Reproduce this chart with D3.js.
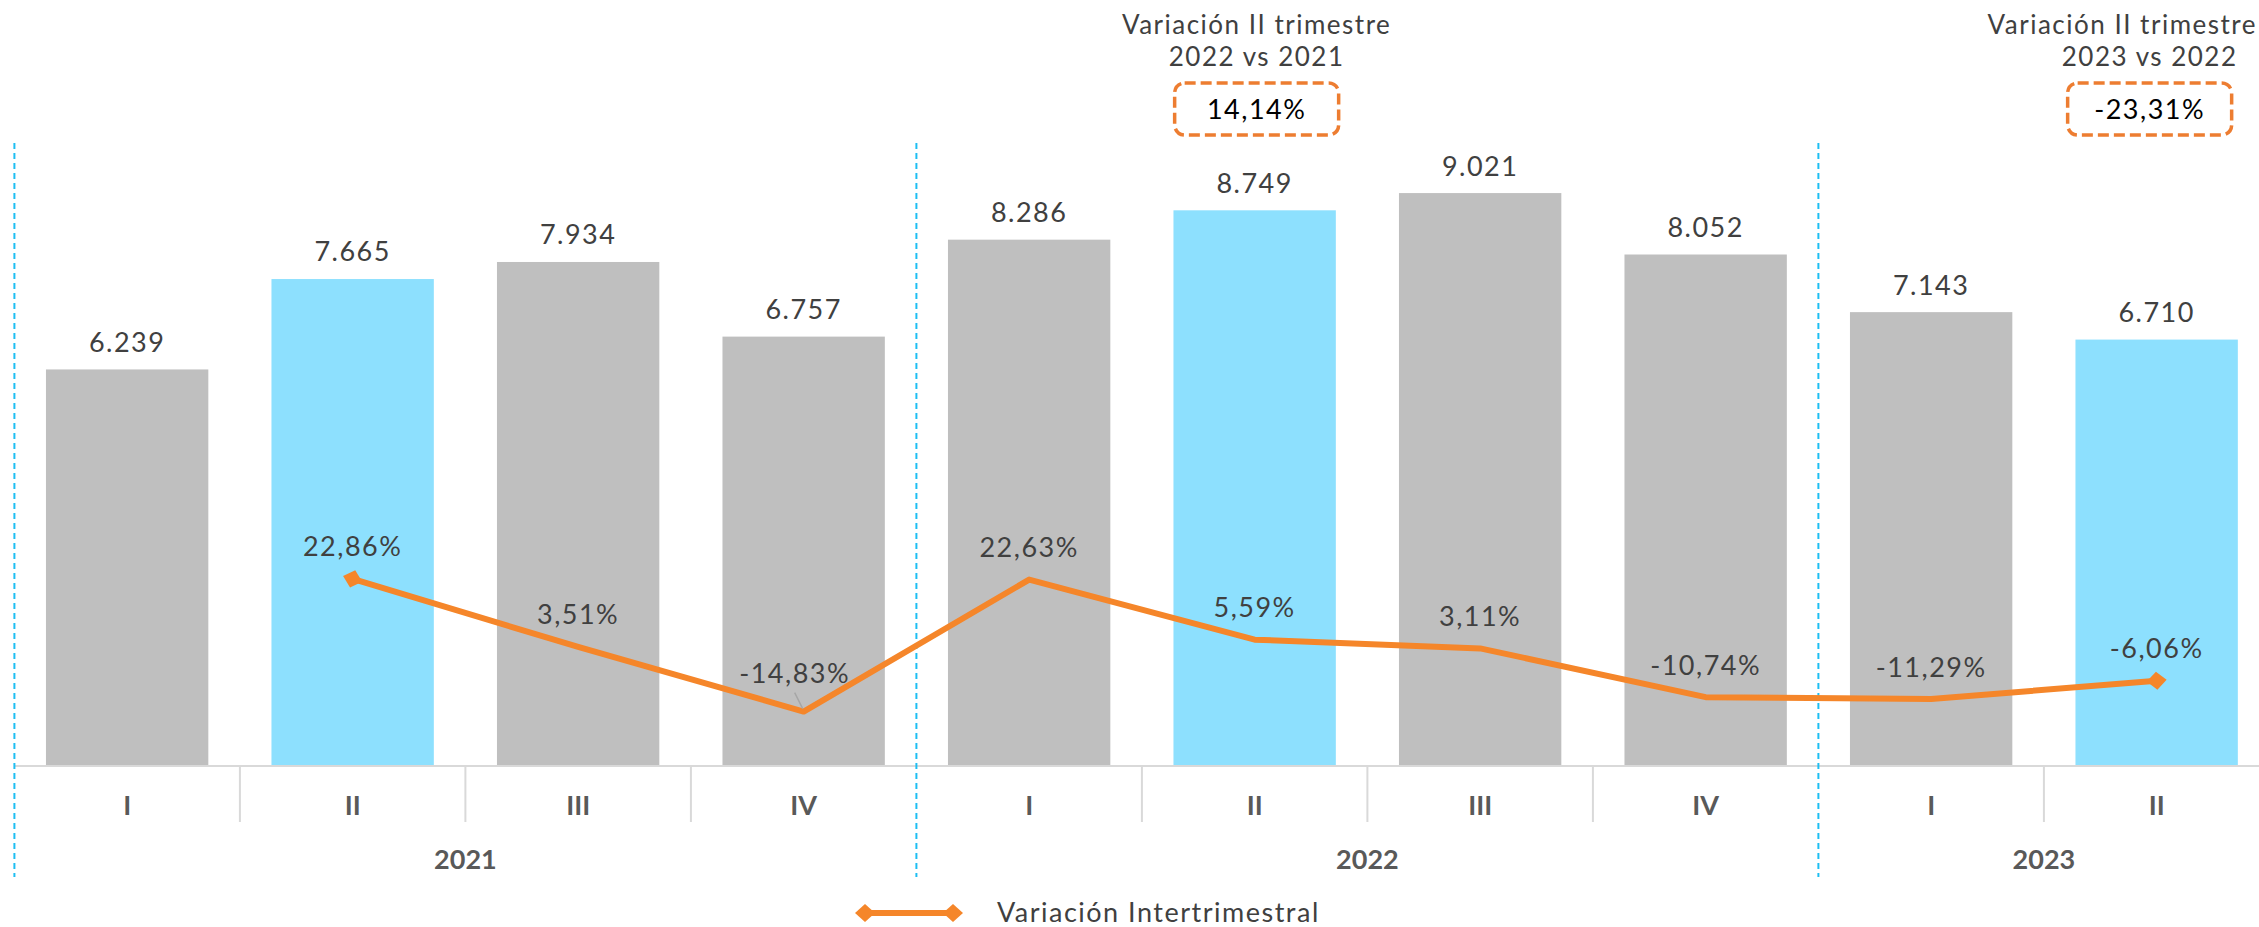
<!DOCTYPE html>
<html>
<head>
<meta charset="utf-8">
<script src="https://cdn.jsdelivr.net/npm/d3@7"></script>
<style>
  body { margin: 0; background: #fff; }
  svg { display: block; font-family: "Century Gothic", Lato, "Open Sans", sans-serif; }
  .thin { letter-spacing: 1.5px; }
</style>
</head>
<body>
<div id="chart"></div>
<script>
// data
var years = ["2021", "2022", "2023"];
var quarters = ["I", "II", "III", "IV", "I", "II", "III", "IV", "I", "II"];
var quarterYear = ["2021", "2021", "2021", "2021", "2022", "2022", "2022", "2022", "2023", "2023"];
var totals = [6239, 7665, 7934, 6757, 8286, 8749, 9021, 8052, 7143, 6710];
var totalLabels = ["6.239", "7.665", "7.934", "6.757", "8.286", "8.749", "9.021", "8.052", "7.143", "6.710"];
var highlight = [false, true, false, false, false, true, false, false, false, true];
var variation = [null, 22.86, 3.51, -14.83, 22.63, 5.59, 3.11, -10.74, -11.29, -6.06];
var variationLabels = ["", "22,86%", "3,51%", "-14,83%", "22,63%", "5,59%", "3,11%", "-10,74%", "-11,29%", "-6,06%"];
var annoIndex = [5, 9];
var annoTitle = ["Variación II trimestre", "Variación II trimestre"];
var annoSub = ["2022 vs 2021", "2023 vs 2022"];
var annoValue = ["14,14%", "-23,31%"];
var legendLabel = "Variación Intertrimestral";

//////////////////////////
// setup chart
//////////////////////////
var width = 2259,
    height = 927,
    base = 765,
    top_ = 131,
    grey = "#BFBFBF",
    blue = "#8DE0FE",
    orange = "#F5862A",
    text = "#404040";

var svg = d3.select("#chart").append("svg")
  .attr("width", width)
  .attr("height", height);

// scales
var idx = d3.range(quarters.length);
var x = d3.scaleBand()
  .domain(idx)
  .range([14.4, 2269.4])
  .paddingInner(0.28)
  .paddingOuter(0.14);
var y = d3.scaleLinear()
  .domain([0, 10000])
  .range([base, top_]);
var y2 = d3.scaleLinear()
  .domain([-30, 150])
  .range([base, top_]);

var step = x.step(),
    x0 = x.range()[0];
function edge(i) { return x0 + i * step; }
function cx(i) { return x(i) + x.bandwidth() / 2; }

// bars
svg.selectAll("rect.bar")
  .data(idx)
  .enter().append("rect")
    .attr("class", "bar")
    .attr("x", function(i) { return x(i); })
    .attr("y", function(i) { return y(totals[i]); })
    .attr("width", x.bandwidth())
    .attr("height", function(i) { return base - y(totals[i]); })
    .attr("fill", function(i) { return highlight[i] ? blue : grey; });

// bar labels
svg.selectAll("text.total")
  .data(idx)
  .enter().append("text")
    .attr("class", "total thin")
    .attr("x", cx)
    .attr("y", function(i) { return y(totals[i]) - 27; })
    .attr("dy", "0.35em")
    .attr("text-anchor", "middle")
    .attr("font-size", 27)
    .attr("fill", text)
    .text(function(i) { return totalLabels[i]; });

// category axis
svg.append("line")
  .attr("x1", x0).attr("x2", width)
  .attr("y1", base + 1).attr("y2", base + 1)
  .attr("stroke", "#D9D9D9")
  .attr("stroke-width", 2);

var groupEdges = [0, 4, 8];
svg.selectAll("line.qsep")
  .data(d3.range(1, quarters.length + 1).filter(function(i) { return groupEdges.indexOf(i) < 0; }))
  .enter().append("line")
    .attr("class", "qsep")
    .attr("x1", edge).attr("x2", edge)
    .attr("y1", base + 1).attr("y2", 822)
    .attr("stroke", "#D9D9D9")
    .attr("stroke-width", 2);

svg.selectAll("line.ysep")
  .data(groupEdges)
  .enter().append("line")
    .attr("class", "ysep")
    .attr("x1", edge).attr("x2", edge)
    .attr("y1", 143).attr("y2", 877)
    .attr("stroke", "#1EBEF2")
    .attr("stroke-width", 2)
    .attr("stroke-dasharray", "6 4");

svg.selectAll("text.quarter")
  .data(idx)
  .enter().append("text")
    .attr("class", "quarter")
    .attr("x", cx)
    .attr("y", 806)
    .attr("dy", "0.35em")
    .attr("text-anchor", "middle")
    .attr("font-size", 27)
    .attr("font-weight", "bold")
    .attr("fill", "#595959")
    .text(function(i) { return quarters[i]; });

svg.selectAll("text.year")
  .data(years)
  .enter().append("text")
    .attr("class", "year")
    .attr("x", function(yr) {
      var q = idx.filter(function(i) { return quarterYear[i] === yr; });
      return (cx(q[0]) + cx(q[q.length - 1])) / 2;
    })
    .attr("y", 860)
    .attr("dy", "0.35em")
    .attr("text-anchor", "middle")
    .attr("font-size", 27)
    .attr("font-weight", "bold")
    .attr("fill", "#595959")
    .text(function(d) { return d; });

// variation line
var pts = idx.filter(function(i) { return variation[i] !== null; });
var valueline = d3.line()
  .x(function(i) { return cx(i); })
  .y(function(i) { return y2(variation[i]); });

svg.append("path")
  .attr("d", valueline(pts))
  .attr("fill", "none")
  .attr("stroke", orange)
  .attr("stroke-width", 6)
  .attr("stroke-linejoin", "round");

// diamond ends
function diamond(g, px, py, ang) {
  g.append("path")
    .attr("d", "M-10,0L0,-9L10,0L0,9Z")
    .attr("transform", "translate(" + px + "," + py + ") rotate(" + ang + ")")
    .attr("fill", orange);
}
var first = pts[0], second = pts[1], last = pts[pts.length - 1], prev = pts[pts.length - 2];
var a1 = Math.atan2(y2(variation[second]) - y2(variation[first]), cx(second) - cx(first)) * 180 / Math.PI;
var a2 = Math.atan2(y2(variation[last]) - y2(variation[prev]), cx(last) - cx(prev)) * 180 / Math.PI;
diamond(svg, cx(first), y2(variation[first]), a1);
diamond(svg, cx(last), y2(variation[last]), a2);

// leader line for the moved label
svg.append("line")
  .attr("x1", cx(3) - 9).attr("y1", y2(variation[3]) - 19)
  .attr("x2", cx(3) - 1).attr("y2", y2(variation[3]) - 3)
  .attr("stroke", "#A6A6A6")
  .attr("stroke-width", 1.5);

svg.selectAll("text.pct")
  .data(pts)
  .enter().append("text")
    .attr("class", "pct thin")
    .attr("x", function(i) { return i === 3 ? cx(i) - 9 : cx(i); })
    .attr("y", function(i) { return y2(variation[i]) - (i === 3 ? 38 : 32); })
    .attr("dy", "0.35em")
    .attr("text-anchor", "middle")
    .attr("font-size", 27)
    .attr("fill", text)
    .text(function(i) { return variationLabels[i]; });

// annotations
var anno = svg.selectAll("g.anno")
  .data(d3.range(annoIndex.length))
  .enter().append("g")
    .attr("class", "anno")
    .attr("transform", function(k) {
      var off = k === 1 ? -7 : 2;
      return "translate(" + (cx(annoIndex[k]) + off) + ",0)";
    });

// last title would run past the right edge, so end it there
anno.append("text")
  .attr("class", "thin")
  .attr("x", function(k) { return k === 1 ? width - 2 - (cx(annoIndex[k]) - 7) : 0; })
  .attr("y", 25).attr("dy", "0.35em")
  .attr("text-anchor", function(k) { return k === 1 ? "end" : "middle"; })
  .attr("font-size", 26)
  .attr("fill", text)
  .text(function(k) { return annoTitle[k]; });
anno.append("text")
  .attr("class", "thin")
  .attr("y", 57).attr("dy", "0.35em")
  .attr("text-anchor", "middle")
  .attr("font-size", 26)
  .attr("fill", text)
  .text(function(k) { return annoSub[k]; });
anno.append("rect")
  .attr("x", -82).attr("y", 83)
  .attr("width", 164).attr("height", 52)
  .attr("rx", 10)
  .attr("fill", "none")
  .attr("stroke", "#ED7D31")
  .attr("stroke-width", 3.5)
  .attr("stroke-dasharray", "11 5");
anno.append("text")
  .attr("class", "thin")
  .attr("y", 110).attr("dy", "0.35em")
  .attr("text-anchor", "middle")
  .attr("font-size", 27)
  .attr("fill", "#000")
  .text(function(k) { return annoValue[k]; });

// legend
var legend = svg.append("g")
  .attr("transform", "translate(861,913)");
legend.append("line")
  .attr("x1", 0).attr("x2", 96)
  .attr("stroke", orange)
  .attr("stroke-width", 6);
diamond(legend, 4, 0, 0);
diamond(legend, 92, 0, 0);
legend.append("text")
  .attr("class", "thin")
  .attr("x", 136)
  .attr("dy", "0.35em")
  .attr("font-size", 27)
  .attr("fill", text)
  .text(legendLabel);
</script>
</body>
</html>
